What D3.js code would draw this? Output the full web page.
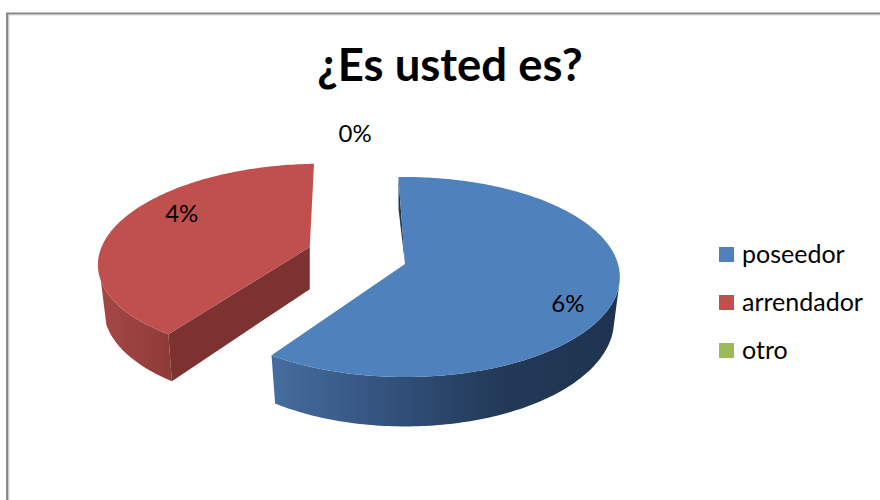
<!DOCTYPE html>
<html>
<head>
<meta charset="utf-8">
<script src="https://cdn.jsdelivr.net/npm/d3@7"></script>
<style>
    html, body { margin: 0; padding: 0; background: #fff; overflow: hidden; }
    text { font-family: Lato, "Noto Sans", sans-serif; fill: #000; }
</style>
</head>
<body>
<div class="pie-chart"></div>
<script>
'use strict'

// Data.
const title = '¿Es usted es?';
const categories = ['poseedor', 'arrendador', 'otro'];
const values = [6, 4, 0];
const valueLabels = ['6%', '4%', '0%'];

// Dimensions and Constants
let width = 880,
    height = 500,
    rx = 213,          // pie radius on screen, across
    ry = 98.3,         // pie radius on screen, into the page
    tilt = 0.13,       // perspective: far side smaller, near side larger
    depth = 43,        // thickness of the pie
    taper = 0.027,     // bottom rim is a bit narrower than the top rim
    cx = 405,
    cy = 264,
    explode = 0.49,    // how far the red slice is pulled out
    explodeAngle = 291,
    rad = Math.PI / 180,
    startAngle = -2 * rad;

let colours = ['#4f81bd', '#c0504d', '#9bbb59'];
let wallColours = ['#1f3552', '#7c3231', '#9bbb59'];

// Label spot for each slice: turn from mid angle (deg), radius.
let labelSpots = [[11.5, 0.82], [13, 0.76], [-8, 1.63]];

let svg = d3.select('.pie-chart')
    .append('svg')
    .attr('width', width)
    .attr('height', height)
    .style('display', 'block');

// Frame, cut by the window on the right and at the bottom.
svg.append('path').attr('d', 'M7.2,500V13.5H880').attr('fill', 'none')
    .attr('stroke', '#868686').attr('stroke-width', 2.2);
svg.append('path').attr('d', 'M8.8,500V14.8H880').attr('fill', 'none')
    .attr('stroke', '#c4c4c4').attr('stroke-width', 1);

// Side gradients.
let defs = svg.append('defs');
function sideGradient(id, x1, x2, stops) {
    let g = defs.append('linearGradient').attr('id', id)
        .attr('gradientUnits', 'userSpaceOnUse')
        .attr('x1', x1).attr('x2', x2).attr('y1', 0).attr('y2', 0);
    stops.forEach(s => g.append('stop').attr('offset', s[0]).attr('stop-color', s[1]));
}
sideGradient('side0', 273, 620, [[0, '#456d9f'], [0.35, '#32507a'], [0.65, '#223a58'], [1, '#1e3350']]);
sideGradient('side1', 100, 170, [[0, '#a54845'], [1, '#8e3b38']]);

// Project a point on the pie (angle, radius) to the screen, with perspective.
function project(angle, r, shift, drop) {
    let offX = explode * shift * Math.sin(explodeAngle * rad),
        offY = explode * shift * Math.cos(explodeAngle * rad),
        X = r * Math.sin(angle) * (1 - taper * drop) + offX,
        Y = r * Math.cos(angle) + offY,
        w = 1 / (1 + tilt * Y);
    return [cx + rx * X * w, cy - ry * Y * w + drop * depth * w];
}

let pie = d3.pie().sort(null).startAngle(startAngle).endAngle(startAngle + 2 * Math.PI);
let slices = pie(values);
let line = d3.line();

// Points along the rim of a slice.
function rim(a0, a1, shift, drop) {
    let n = Math.max(2, Math.ceil(Math.abs(a1 - a0) / rad));
    return d3.range(n + 1).map(i => project(a0 + (a1 - a0) * i / n, 1, shift, drop));
}

// Back slice first, the blue one sits in front of it.
[1, 0].forEach(i => {
    let d = slices[i],
        shift = i === 1 ? 1 : 0,
        g = svg.append('g').attr('class', 'slice');

    // Outer side, only the part that faces the viewer.
    let sideFrom = i === 0 ? 100 * rad : d.startAngle,
        sideTo = i === 0 ? d.endAngle : 250 * rad;
    g.append('path')
        .attr('d', line(rim(sideFrom, sideTo, shift, 0).concat(rim(sideTo, sideFrom, shift, 1))) + 'Z')
        .attr('fill', `url(#side${i})`);

    // Cut wall.
    if (i === 1) {
        g.append('path')
            .attr('d', line([
                project(0, 0, shift, 0), project(d.startAngle, 1, shift, 0),
                project(d.startAngle, 1, shift, 1), project(0, 0, shift, 1)
            ]) + 'Z')
            .attr('fill', wallColours[i]);
    } else {
        // thin sliver along the far edge of the blue slice
        g.append('path')
            .attr('d', line([
                project(d.startAngle, 1, shift, 0), project(0, 0, shift, 0),
                project(d.startAngle, 1, shift, 0.85)
            ]) + 'Z')
            .attr('fill', wallColours[i]);
    }

    // Top face.
    g.append('path')
        .attr('d', line([project(0, 0, shift, 0)].concat(rim(d.startAngle, d.endAngle, shift, 0))) + 'Z')
        .attr('fill', colours[i]);
});

// Value labels.
svg.append('g')
    .attr('class', 'valueLabels')
    .selectAll('text')
    .data(slices)
    .join('text')
    .attr('transform', (d, i) => {
        let mid = (d.startAngle + d.endAngle) / 2 + labelSpots[i][0] * rad,
            p = project(mid, labelSpots[i][1], i === 1 ? 1 : 0, 0);
        return `translate(${p[0]},${p[1]})`;
    })
    .attr('text-anchor', 'middle')
    .attr('dy', '0.35em')
    .style('font-size', '24px')
    .text((d, i) => valueLabels[i]);

// Title.
svg.append('text')
    .attr('x', 450)
    .attr('y', 81)
    .attr('text-anchor', 'middle')
    .style('font-size', '45.5px')
    .style('font-weight', 700)
    .text(title);

// Legend.
let legendY = d3.scalePoint().domain(categories).range([254.5, 350.5]);
let legend = svg.append('g')
    .attr('class', 'legend')
    .selectAll('g')
    .data(categories)
    .join('g')
    .attr('transform', d => `translate(719,${legendY(d)})`);

legend.append('rect')
    .attr('y', -7.5)
    .attr('width', 15)
    .attr('height', 15)
    .attr('fill', (d, i) => colours[i]);

legend.append('text')
    .attr('x', 23)
    .attr('dy', '0.35em')
    .style('font-size', '25px')
    .text(d => d);
</script>
</body>
</html>
